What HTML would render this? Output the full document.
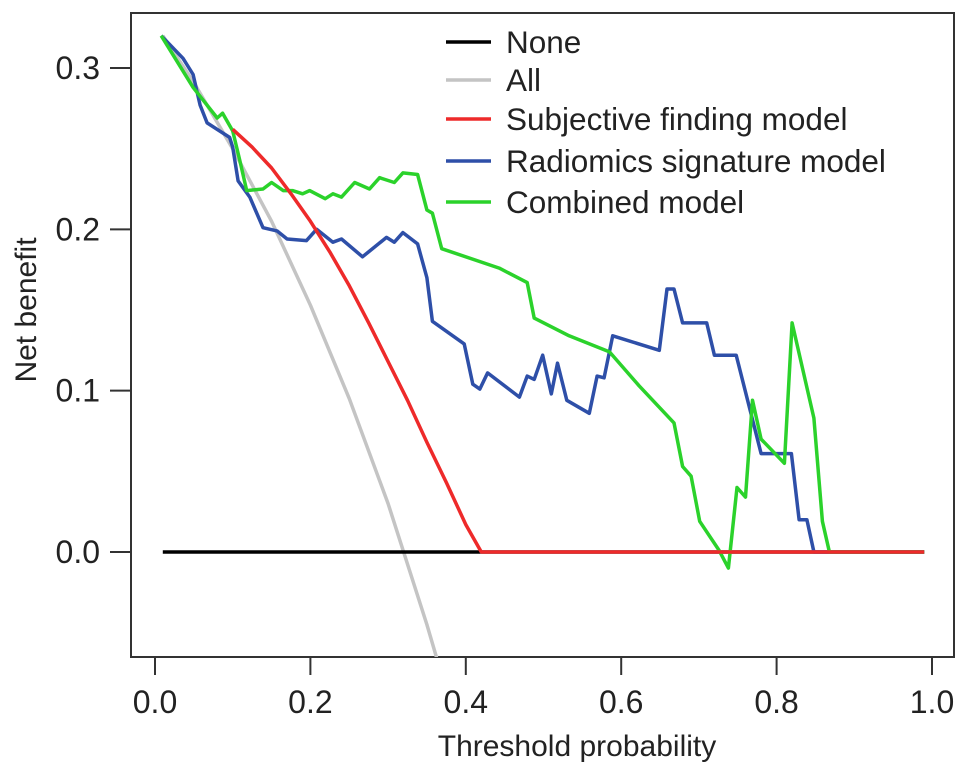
<!DOCTYPE html>
<html><head><meta charset="utf-8"><style>
html,body{margin:0;padding:0;background:#fff;}
svg{display:block;font-family:"Liberation Sans",Arial,sans-serif;}
</style></head><body>
<svg id="chart" width="969" height="778" viewBox="0 0 969 778" xmlns="http://www.w3.org/2000/svg">
<defs><clipPath id="plotclip"><rect x="131" y="13" width="823" height="644"/></clipPath></defs>
<rect x="131" y="13" width="823" height="644" fill="none" stroke="#333" stroke-width="2"/>
<g id="axes"></g>
<g id="series" clip-path="url(#plotclip)"></g>
<g id="legend"></g>
<text x="577" y="756" font-size="30" text-anchor="middle" fill="#222">Threshold probability</text>
<text transform="translate(36,310) rotate(-90)" font-size="30" text-anchor="middle" fill="#222">Net benefit</text>
</svg>
<script>
const xTicks = [0.0, 0.2, 0.4, 0.6, 0.8, 1.0];
const xTickLabels = ["0.0", "0.2", "0.4", "0.6", "0.8", "1.0"];
const yTicks = [0.0, 0.1, 0.2, 0.3];
const yTickLabels = ["0.0", "0.1", "0.2", "0.3"];

const noneT = [0.01, 0.99];
const noneNB = [0, 0];
const allT = [0.01, 0.05, 0.1, 0.15, 0.2, 0.25, 0.3, 0.35, 0.37, 0.40];
const allNB = [0.320, 0.291, 0.250, 0.205, 0.153, 0.095, 0.030, -0.045, -0.078, -0.130];
const subjT = [0.1, 0.125, 0.15, 0.175, 0.2, 0.225, 0.25, 0.275, 0.3, 0.325, 0.35, 0.375, 0.4, 0.42, 0.99];
const subjNB = [0.262, 0.251, 0.238, 0.222, 0.205, 0.186, 0.165, 0.142, 0.118, 0.094, 0.068, 0.043, 0.017, 0, 0];
const radT = [0.008,0.036,0.049,0.058,0.067,0.096,0.100,0.107,0.122,0.139,0.157,0.170,0.195,0.208,0.229,0.240,0.267,0.298,0.308,0.319,0.338,0.350,0.357,0.398,0.409,0.418,0.428,0.469,0.479,0.488,0.499,0.510,0.518,0.530,0.559,0.569,0.578,0.589,0.649,0.659,0.668,0.679,0.710,0.720,0.748,0.780,0.819,0.829,0.839,0.848,0.99];
const radNB = [0.320,0.306,0.296,0.277,0.266,0.257,0.251,0.230,0.220,0.201,0.199,0.194,0.193,0.200,0.192,0.194,0.183,0.195,0.192,0.198,0.191,0.170,0.143,0.129,0.104,0.101,0.111,0.096,0.109,0.107,0.122,0.098,0.117,0.094,0.086,0.109,0.108,0.134,0.125,0.163,0.163,0.142,0.142,0.122,0.122,0.061,0.061,0.020,0.020,0.000,0.000];
const combT = [0.008,0.049,0.080,0.087,0.100,0.109,0.118,0.139,0.150,0.165,0.177,0.190,0.199,0.219,0.229,0.240,0.257,0.276,0.289,0.308,0.319,0.338,0.350,0.357,0.369,0.443,0.479,0.488,0.533,0.585,0.623,0.668,0.679,0.690,0.701,0.726,0.738,0.749,0.760,0.769,0.780,0.810,0.820,0.848,0.859,0.868,0.99];
const combNB = [0.320,0.288,0.269,0.272,0.261,0.243,0.224,0.225,0.229,0.224,0.224,0.222,0.224,0.219,0.222,0.220,0.229,0.225,0.232,0.229,0.235,0.234,0.212,0.210,0.188,0.176,0.167,0.145,0.134,0.124,0.103,0.080,0.053,0.047,0.019,0.001,-0.010,0.040,0.034,0.094,0.070,0.055,0.142,0.083,0.019,0.000,0.000];

const legendLabels = ["None", "All", "Subjective finding model", "Radiomics signature model", "Combined model"];

const X0 = 155, X1 = 932, Y0 = 552, Y3 = 68;
function sx(v){ return X0 + v * (X1 - X0); }
function sy(v){ return Y0 - v * (Y0 - Y3) / 0.3; }

const NS = "http://www.w3.org/2000/svg";
function mk(tag, attrs, parent){
  const e = document.createElementNS(NS, tag);
  for (const k in attrs) e.setAttribute(k, attrs[k]);
  parent.appendChild(e);
  return e;
}
const axes = document.getElementById('axes');
xTicks.forEach((v, i) => {
  const t = mk('line', {x1: sx(v), x2: sx(v), y1: 657, y2: 675, stroke: '#333', 'stroke-width': 2}, axes);
  
  
  const l = mk('text', {x: sx(v), y: 713, 'font-size': 32, 'text-anchor': 'middle', fill: '#222'}, axes);
  l.textContent = xTickLabels[i];
  
  
});
yTicks.forEach((v, i) => {
  const t = mk('line', {x1: 110, x2: 131, y1: sy(v), y2: sy(v), stroke: '#333', 'stroke-width': 2}, axes);
  
  
  const l = mk('text', {x: 100, y: sy(v) + 11, 'font-size': 32, 'text-anchor': 'end', fill: '#222'}, axes);
  l.textContent = yTickLabels[i];
  
  
});

const seriesG = document.getElementById('series');
function line(ts, vs, color, name){
  const pts = ts.map((t, i) => sx(t).toFixed(1) + ',' + sy(vs[i]).toFixed(1)).join(' ');
  const p = mk('polyline', {points: pts, fill: 'none', stroke: color, 'stroke-width': 3.5, 'stroke-linejoin': 'round'}, seriesG);
  
  
}
line(allT, allNB, '#c4c4c4', 'all-line');
line(noneT, noneNB, '#000000', 'none-line');
line(radT, radNB, '#2e4fa8', 'radiomics-line');
line(combT, combNB, '#2bd22b', 'combined-line');
line(subjT, subjNB, '#ee2a2a', 'subjective-line');

const legendColors = ['#000000', '#c4c4c4', '#ee2a2a', '#2e4fa8', '#2bd22b'];
const legendY = [42, 80, 119, 161, 202];
const lg = document.getElementById('legend');
legendLabels.forEach((lab, i) => {
  const l = mk('line', {x1: 446, x2: 491, y1: legendY[i], y2: legendY[i], stroke: legendColors[i], 'stroke-width': 3.5}, lg);
  
  
  const t = mk('text', {x: 506, y: legendY[i] + 11, 'font-size': 31.5, fill: '#222'}, lg);
  t.textContent = lab;
  
  
});
</script>
</body></html>
